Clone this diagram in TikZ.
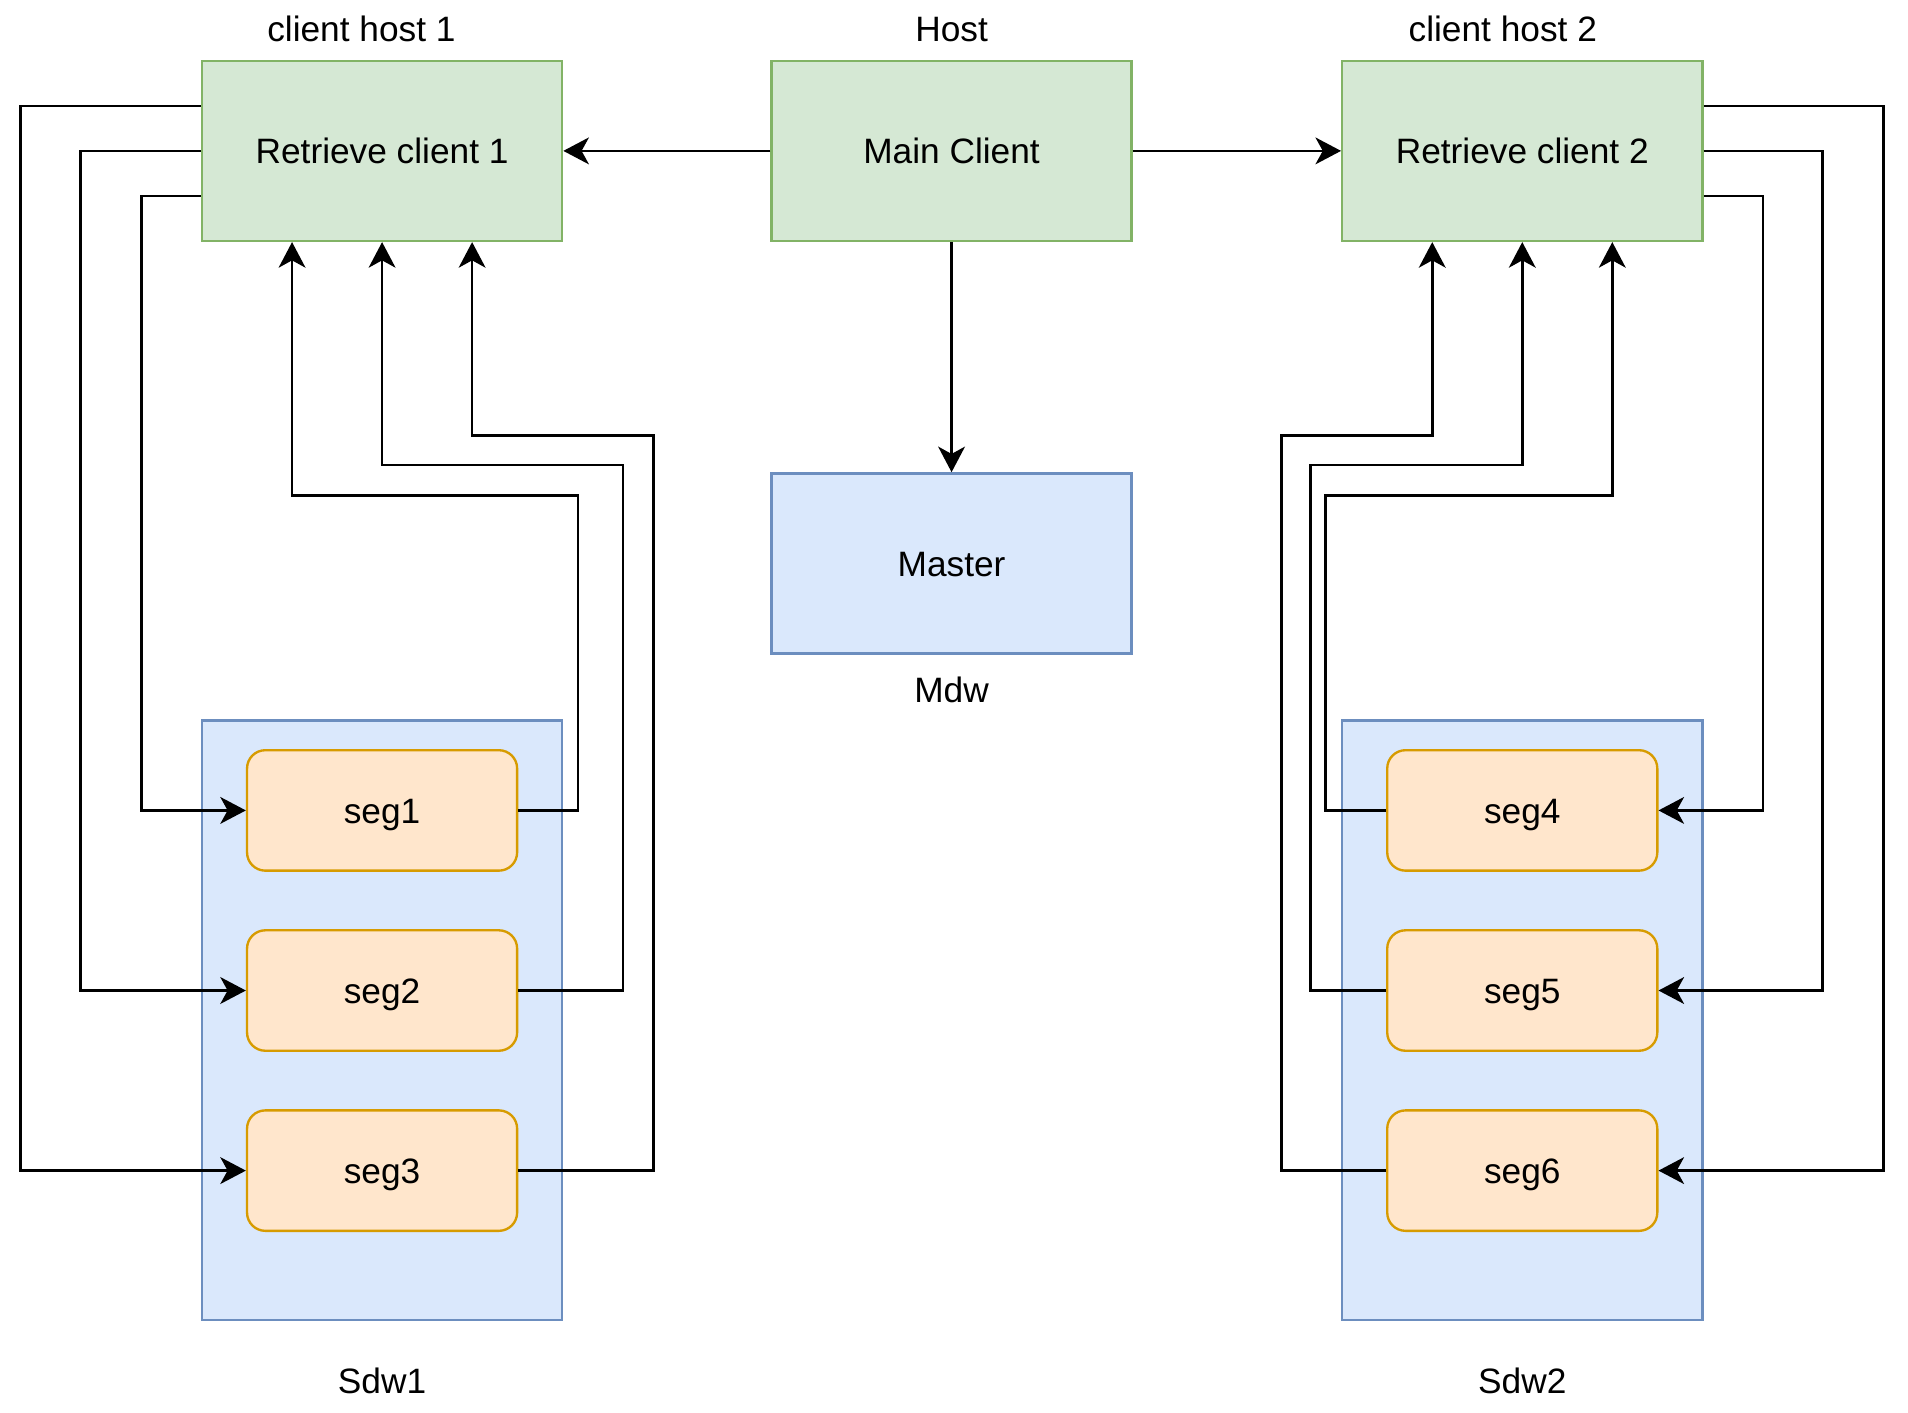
\documentclass[tikz,border=0pt]{standalone}
\usepackage{fontspec}
\setmainfont{Liberation Sans}
\usepackage{tikz}
\usepackage{xcolor}
\usetikzlibrary{arrows.meta,positioning,calc}
\definecolor{hostfill}{HTML}{D5E8D4}
\definecolor{hostline}{HTML}{82B366}
\definecolor{nodefill}{HTML}{DAE8FC}
\definecolor{nodeline}{HTML}{6C8EBF}
\definecolor{segfill}{HTML}{FFE6CC}
\definecolor{segline}{HTML}{D79B00}

\begin{document}
\begin{tikzpicture}[
		x=0.02cm, y=-0.02cm,
		font=\fontsize{16.5}{20}\selectfont,
		client/.style={
			align=center, rectangle, draw=hostline, fill=hostfill, line width=1.1pt,
			minimum width=5.92cm, minimum height=2.96cm, text height=11.8pt, text depth=0pt
		},
		server/.style={
			align=center, rectangle, draw=nodeline, fill=nodefill, line width=1.1pt,
			minimum width=5.92cm, minimum height=2.96cm, text height=11.8pt, text depth=0pt
		},
		segment/.style={
			align=center, rectangle, rounded corners=.3cm, draw=segline, fill=segfill, line width=1.1pt,
			minimum width=4.44cm, minimum height=1.98cm, text height=11.8pt, text depth=0pt
		},
		ghost/.style={
			align=center, inner sep=0pt, text height=12pt, text depth=0pt
		},
		link/.style={line width=1.25pt},
		>={Stealth[length=.42cm, width=.44cm, inset=.12cm]},
		]
		\useasboundingbox (0,0) rectangle (1568,1161.2);

		% Segment hosts
		\node [server] (sdw1) at (314,838.5) [minimum height=9.86cm] {};
		\node [ghost, below=.76cm of sdw1.south] (sdwlbl1) {Sdw1};
		\node [server] (sdw2) at (1251,838.5) [minimum height=9.86cm] {};
		\node [ghost, below=.76cm of sdw2.south] (sdwlbl2) {Sdw2};

		% Clients
		\node [client] (main) at (782,124) {Main Client};
		\node [ghost, above=.3cm of main.north] (mainlbl) {Host};
		\node [client] (rc1) at (314,124) {Retrieve client 1};
		\node [ghost, above=.3cm of rc1.north, xshift=-.34cm] (rclbl1) {client host 1};
		\node [client] (rc2) at (1251,124) {Retrieve client 2};
		\node [ghost, above=.3cm of rc2.north, xshift=-.32cm] (rclbl2) {client host 2};

		% Master
		\node [server] (master) at (782,463) {Master};
		\node [ghost, below=.36cm of master.south] (masterlbl) {Mdw};

		% Segments
		\node [segment] (seg1) at (314,666) {seg1};
		\node [segment] (seg2) at (314,814) {seg2};
		\node [segment] (seg3) at (314,962) {seg3};
		\node [segment] (seg4) at (1251,666) {seg4};
		\node [segment] (seg5) at (1251,814) {seg5};
		\node [segment] (seg6) at (1251,962) {seg6};

		% Main client
		\draw [link, ->] (main) -- (rc1);
		\draw [link, ->] (main) -- (rc2);
		\draw [link, ->] (main) -- (master);

		% Retrieve client 1 to segments
		\draw [link, ->] ([yshift=.74cm]rc1.west) -- ++(-148,0) |- (seg3.west);
		\draw [link, ->] (rc1.west) -- ++(-99,0) |- (seg2.west);
		\draw [link, ->] ([yshift=-.74cm]rc1.west) -- ++(-49,0) |- (seg1.west);

		% Segments back to retrieve client 1
		\draw [link, ->] (seg1.east) -- ++(49,0) -- ++(0,-259) -| ([xshift=-1.48cm]rc1.south);
		\draw [link, ->] (seg2.east) -- ++(86,0) -- ++(0,-432) -| (rc1.south);
		\draw [link, ->] (seg3.east) -- ++(111,0) -- ++(0,-604) -| ([xshift=1.48cm]rc1.south);

		% Retrieve client 2 to segments
		\draw [link, ->] ([yshift=.74cm]rc2.east) -- ++(148,0) |- (seg6.east);
		\draw [link, ->] (rc2.east) -- ++(98,0) |- (seg5.east);
		\draw [link, ->] ([yshift=-.74cm]rc2.east) -- ++(49,0) |- (seg4.east);

		% Segments back to retrieve client 2
		\draw [link, ->] (seg4.west) -- ++(-50,0) -- ++(0,-259) -| ([xshift=1.48cm]rc2.south);
		\draw [link, ->] (seg5.west) -- ++(-62,0) -- ++(0,-432) -| (rc2.south);
		\draw [link, ->] (seg6.west) -- ++(-86,0) -- ++(0,-604) -| ([xshift=-1.48cm]rc2.south);

	\end{tikzpicture}
\end{document}
